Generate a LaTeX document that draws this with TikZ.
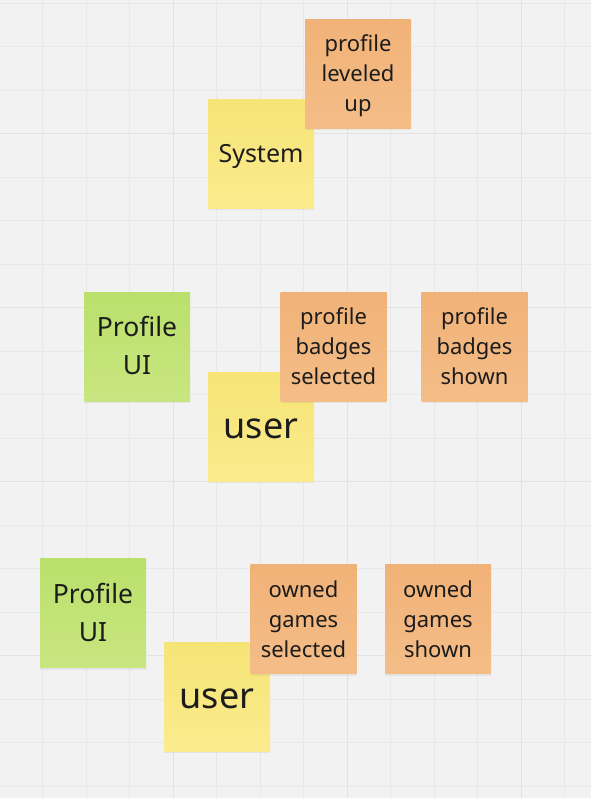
\documentclass[tikz,border=0pt]{standalone}
\usepackage{fontspec}
\setmainfont{Noto Sans}
\usetikzlibrary{shadows}
\definecolor{boardBg}{HTML}{F2F2F2}
\definecolor{gridMinor}{HTML}{E8E8E8}
\definecolor{gridMajor}{HTML}{E2E2E2}
\definecolor{inkText}{HTML}{1C1C1C}
\definecolor{yellowTop}{HTML}{F6E476}
\definecolor{yellowBot}{HTML}{FBEB8D}
\definecolor{orangeTop}{HTML}{F1B277}
\definecolor{orangeBot}{HTML}{F4BD88}
\definecolor{greenTop}{HTML}{BAE06B}
\definecolor{greenBot}{HTML}{C8E680}
\tikzset{
  sticky/.style={minimum width=106pt, minimum height=109pt, inner sep=0pt,
    drop shadow={shadow xshift=0pt, shadow yshift=-2pt, opacity=0.12}},
  noteText/.style={inner sep=0pt, align=center, text=inkText, yshift=-2.5pt,
    execute at begin node={\rule[-.25em]{0pt}{1.01em}},
    execute at end node={\rule[-.25em]{0pt}{1.01em}}},
  yellowNote/.style={sticky, top color=yellowTop, bottom color=yellowBot},
  orangeNote/.style={sticky, top color=orangeTop, bottom color=orangeBot},
  greenNote/.style={sticky, top color=greenTop, bottom color=greenBot},
  smallText/.style={noteText, font=\fontsize{22}{30}\selectfont},
  midText/.style={noteText, font=\fontsize{26.5}{38}\selectfont},
  bigText/.style={noteText, font=\fontsize{36}{42}\selectfont}
}
\begin{document}
\begin{tikzpicture}[x=1pt, y=-1pt]
% ---------- board and grid ----------
\fill[boardBg] (0,0) rectangle (591,798);
\useasboundingbox (0,0) rectangle (591,798);
\foreach \k in {0,...,12}
  \draw[gridMinor, line width=0.9pt] ({42.7+43.5*\k},0) -- ({42.7+43.5*\k},798);
\foreach \k in {0,...,18}
  \draw[gridMinor, line width=0.9pt] (0,{3.3+43.5*\k}) -- (591,{3.3+43.5*\k});
\foreach \k in {3,7,11}
  \draw[gridMajor, line width=1.3pt] ({42.7+43.5*\k},0) -- ({42.7+43.5*\k},798);
\foreach \k in {3,7,11,15}
  \draw[gridMajor, line width=1.3pt] (0,{3.3+43.5*\k}) -- (591,{3.3+43.5*\k});
% ---------- top: system event ----------
\node[yellowNote, label={[midText, font=\fontsize{25}{36}\selectfont]center:System}] (system) at (261,153.5) {};
\node[orangeNote, label={[smallText]center:{profile\\leveled\\up}}] (leveledUp) at (358,73.5) {};
% ---------- middle: profile badges ----------
\node[greenNote, label={[midText]center:{Profile\\UI}}] (badgesUI) at (137,346.5) {};
\node[yellowNote, label={[bigText]center:user}] (badgesUser) at (261,426.5) {};
\node[orangeNote, label={[smallText]center:{profile\\badges\\selected}}] (badgesSelected) at (333.5,346.5) {};
\node[orangeNote, label={[smallText]center:{profile\\badges\\shown}}] (badgesShown) at (474.5,346.5) {};
% ---------- bottom: owned games ----------
\node[greenNote, label={[midText]center:{Profile\\UI}}] (gamesUI) at (93,613) {};
\node[yellowNote, label={[bigText]center:user}] (gamesUser) at (217,696.5) {};
\node[orangeNote, label={[smallText]center:{owned\\games\\selected}}] (gamesSelected) at (303.5,619) {};
\node[orangeNote, label={[smallText]center:{owned\\games\\shown}}] (gamesShown) at (438,619) {};
\end{tikzpicture}
\end{document}
